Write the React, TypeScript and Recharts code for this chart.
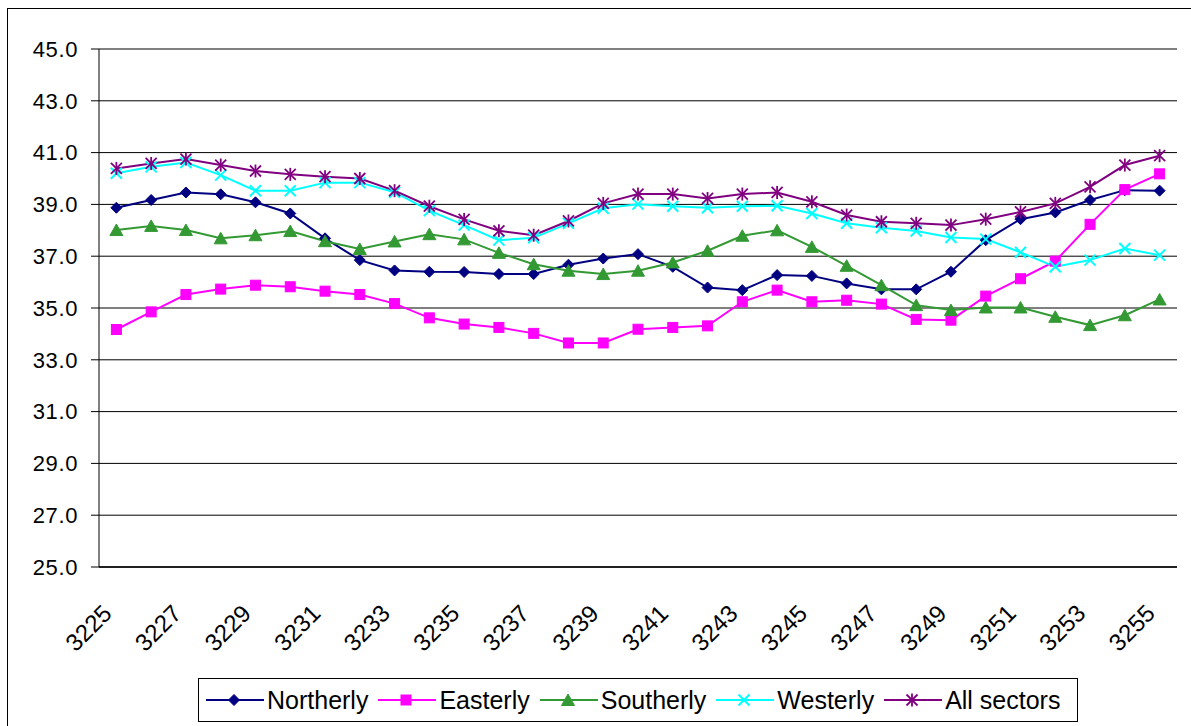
import React from 'react';
import { LineChart, Line, XAxis, YAxis, CartesianGrid, ReferenceLine } from 'recharts';

const categories = [
  '3225', '3226', '3227', '3228', '3229', '3230', '3231', '3232', '3233', '3234', '3235',
  '3236', '3237', '3238', '3239', '3240', '3241', '3242', '3243', '3244', '3245', '3246',
  '3247', '3248', '3249', '3250', '3251', '3252', '3253', '3254', '3255',
];

const northerly = [
  38.87, 39.17, 39.46, 39.39, 39.08, 38.65, 37.69, 36.85, 36.45, 36.40, 36.39,
  36.31, 36.31, 36.67, 36.91, 37.08, 36.59, 35.79, 35.69, 36.27, 36.24, 35.95,
  35.72, 35.72, 36.40, 37.62, 38.43, 38.69, 39.17, 39.55, 39.53,
];
const easterly = [
  34.17, 34.85, 35.52, 35.73, 35.88, 35.82, 35.65, 35.52, 35.17, 34.62, 34.38,
  34.25, 34.02, 33.65, 33.65, 34.18, 34.25, 34.31, 35.24, 35.69, 35.24, 35.30,
  35.15, 34.56, 34.53, 35.46, 36.13, 36.81, 38.23, 39.57, 40.18,
];
const southerly = [
  38.01, 38.17, 38.01, 37.69, 37.81, 37.97, 37.58, 37.28, 37.57, 37.85, 37.65,
  37.13, 36.69, 36.44, 36.31, 36.44, 36.76, 37.21, 37.79, 38.0, 37.36, 36.63,
  35.88, 35.11, 34.92, 35.02, 35.02, 34.66, 34.34, 34.72, 35.33,
];
const westerly = [
  40.20, 40.45, 40.62, 40.13, 39.53, 39.53, 39.84, 39.84, 39.47, 38.76, 38.20,
  37.62, 37.71, 38.27, 38.85, 39.01, 38.93, 38.87, 38.93, 38.95, 38.65, 38.27,
  38.10, 37.97, 37.72, 37.66, 37.15, 36.59, 36.85, 37.30, 37.04,
];
const allSectors = [
  40.39, 40.58, 40.75, 40.52, 40.29, 40.16, 40.07, 40.00, 39.53, 38.93, 38.42,
  37.98, 37.81, 38.36, 39.04, 39.40, 39.40, 39.23, 39.40, 39.46, 39.10, 38.59,
  38.33, 38.27, 38.20, 38.43, 38.71, 39.04, 39.68, 40.52, 40.88,
];

const yTicks = [25, 27, 29, 31, 33, 35, 37, 39, 41, 43, 45];
const boundaryTicks = [
  0, 1, 2, 3, 4, 5, 6, 7, 8, 9, 10, 11, 12, 13, 14, 15, 16, 17, 18, 19, 20, 21, 22, 23, 24,
  25, 26, 27, 28, 29, 30, 31,
];

const data = categories.map((c, i) => ({
  x: c,
  northerly: northerly[i],
  easterly: easterly[i],
  southerly: southerly[i],
  westerly: westerly[i],
  allSectors: allSectors[i],
}));

const FONT = '"Liberation Sans", Arial, sans-serif';

const C_N = '#000080';
const C_E = '#FF00FF';
const C_S = '#339933';
const C_W = '#00FFFF';
const C_A = '#800080';

type MarkerKind = 'diamond' | 'square' | 'triangle' | 'x' | 'star';

function Marker({ kind, cx, cy, color }: { kind: MarkerKind; cx: number; cy: number; color: string }) {
  if (cx == null || cy == null || isNaN(cx) || isNaN(cy)) return null;
  switch (kind) {
    case 'diamond': {
      const r = 5.5;
      return <polygon points={`${cx},${cy - r} ${cx + r},${cy} ${cx},${cy + r} ${cx - r},${cy}`} fill={color} stroke={color} strokeWidth={1} />;
    }
    case 'square': {
      const r = 5;
      return <rect x={cx - r} y={cy - r} width={2 * r} height={2 * r} fill={color} stroke={color} strokeWidth={1} />;
    }
    case 'triangle': {
      const w = 6.5;
      const h = 6;
      return <polygon points={`${cx},${cy - h} ${cx + w},${cy + h - 0.5} ${cx - w},${cy + h - 0.5}`} fill={color} stroke={color} strokeWidth={1} />;
    }
    case 'x': {
      const r = 5.5;
      return (
        <g stroke={color} strokeWidth={2}>
          <line x1={cx - r} y1={cy - r} x2={cx + r} y2={cy + r} />
          <line x1={cx - r} y1={cy + r} x2={cx + r} y2={cy - r} />
        </g>
      );
    }
    case 'star': {
      const r = 5.5;
      return (
        <g stroke={color} strokeWidth={1.8}>
          <line x1={cx - r} y1={cy - r} x2={cx + r} y2={cy + r} />
          <line x1={cx - r} y1={cy + r} x2={cx + r} y2={cy - r} />
          <line x1={cx} y1={cy - r - 1} x2={cx} y2={cy + r + 1} />
        </g>
      );
    }
  }
  return null;
}

const makeDot = (kind: MarkerKind, color: string) => (props: any) => (
  <Marker key={`${kind}-${props.index}`} kind={kind} cx={props.cx} cy={props.cy} color={color} />
);

const XTick = (props: any) => {
  const { x, y, payload } = props;
  const ax = x - 9;
  return (
    <text
      x={ax}
      y={y}
      transform={`rotate(-45 ${ax} ${y})`}
      textAnchor="end"
      dy="0.35em"
      fontSize={24}
      fontFamily={FONT}
      fill="#000"
    >
      {payload.value}
    </text>
  );
};

const series: { key: string; name: string; kind: MarkerKind; color: string }[] = [
  { key: 'northerly', name: 'Northerly', kind: 'diamond', color: C_N },
  { key: 'easterly', name: 'Easterly', kind: 'square', color: C_E },
  { key: 'southerly', name: 'Southerly', kind: 'triangle', color: C_S },
  { key: 'westerly', name: 'Westerly', kind: 'x', color: C_W },
  { key: 'allSectors', name: 'All sectors', kind: 'star', color: C_A },
];

function LegendBox() {
  return (
    <div
      style={{
        position: 'absolute',
        left: 198,
        top: 678,
        width: 871,
        height: 42,
        border: '1px solid #000',
        background: '#fff',
        display: 'flex',
        alignItems: 'center',
        paddingLeft: 7,
        boxSizing: 'content-box',
        fontFamily: FONT,
        fontSize: 25,
        color: '#000',
      }}
    >
      {series.map((s) => (
        <div key={s.key} style={{ display: 'flex', alignItems: 'center', marginRight: 10 }}>
          <svg width={58} height={20} style={{ display: 'block' }}>
            <line x1={0} y1={10} x2={58} y2={10} stroke={s.color} strokeWidth={2} />
            <Marker kind={s.kind} cx={28} cy={10} color={s.color} />
          </svg>
          <span style={{ marginLeft: 3, whiteSpace: 'nowrap' }}>{s.name}</span>
        </div>
      ))}
    </div>
  );
}

export default function App() {
  return (
    <div
      style={{
        position: 'fixed',
        left: 0,
        top: 0,
        width: 1191,
        height: 726,
        overflow: 'hidden',
        background: '#fff',
      }}
    >
      <div
        style={{
          position: 'absolute',
          left: 7,
          top: 8,
          width: 1300,
          height: 800,
          border: '1px solid #000',
        }}
      />
      <div style={{ position: 'absolute', left: 0, top: 0 }}>
        <LineChart
          width={1191}
          height={726}
          data={data}
          margin={{ top: 49, right: 14, left: 0, bottom: 0 }}
        >
          <CartesianGrid horizontal={true} vertical={false} stroke="#000" strokeWidth={1} />
          <XAxis
            xAxisId="grid"
            type="number"
            domain={[0, 31]}
            ticks={boundaryTicks}
            allowDataOverflow
            height={0}
            tick={false}
            tickSize={8}
            tickLine={{ stroke: '#000', strokeWidth: 1 }}
            axisLine={false}
          />
          <XAxis
            xAxisId="cat"
            dataKey="x"
            type="category"
            scale="band"
            interval={1}
            height={159}
            tickLine={false}
            tickSize={0}
            tickMargin={42}
            tick={<XTick />}
            axisLine={{ stroke: '#000', strokeWidth: 1.5 }}
          />
          <YAxis
            type="number"
            domain={[25, 45]}
            ticks={yTicks}
            width={99}
            tickSize={8}
            tickMargin={13}
            tickFormatter={(v: number) => v.toFixed(1)}
            tick={{ fontSize: 22, fontFamily: FONT, fill: '#000', letterSpacing: 0.6 }}
            tickLine={{ stroke: '#000' }}
            axisLine={{ stroke: '#000', strokeWidth: 1 }}
          />
          <ReferenceLine y={45} xAxisId="cat" stroke="#808080" strokeWidth={2} />
          <ReferenceLine x={31} xAxisId="grid" stroke="#808080" strokeWidth={2} />
          {series.map((s) => (
            <Line
              key={s.key}
              xAxisId="cat"
              dataKey={s.key}
              name={s.name}
              stroke={s.color}
              strokeWidth={2}
              dot={makeDot(s.kind, s.color)}
              activeDot={false}
              isAnimationActive={false}
            />
          ))}
        </LineChart>
      </div>
      <LegendBox />
    </div>
  );
}
